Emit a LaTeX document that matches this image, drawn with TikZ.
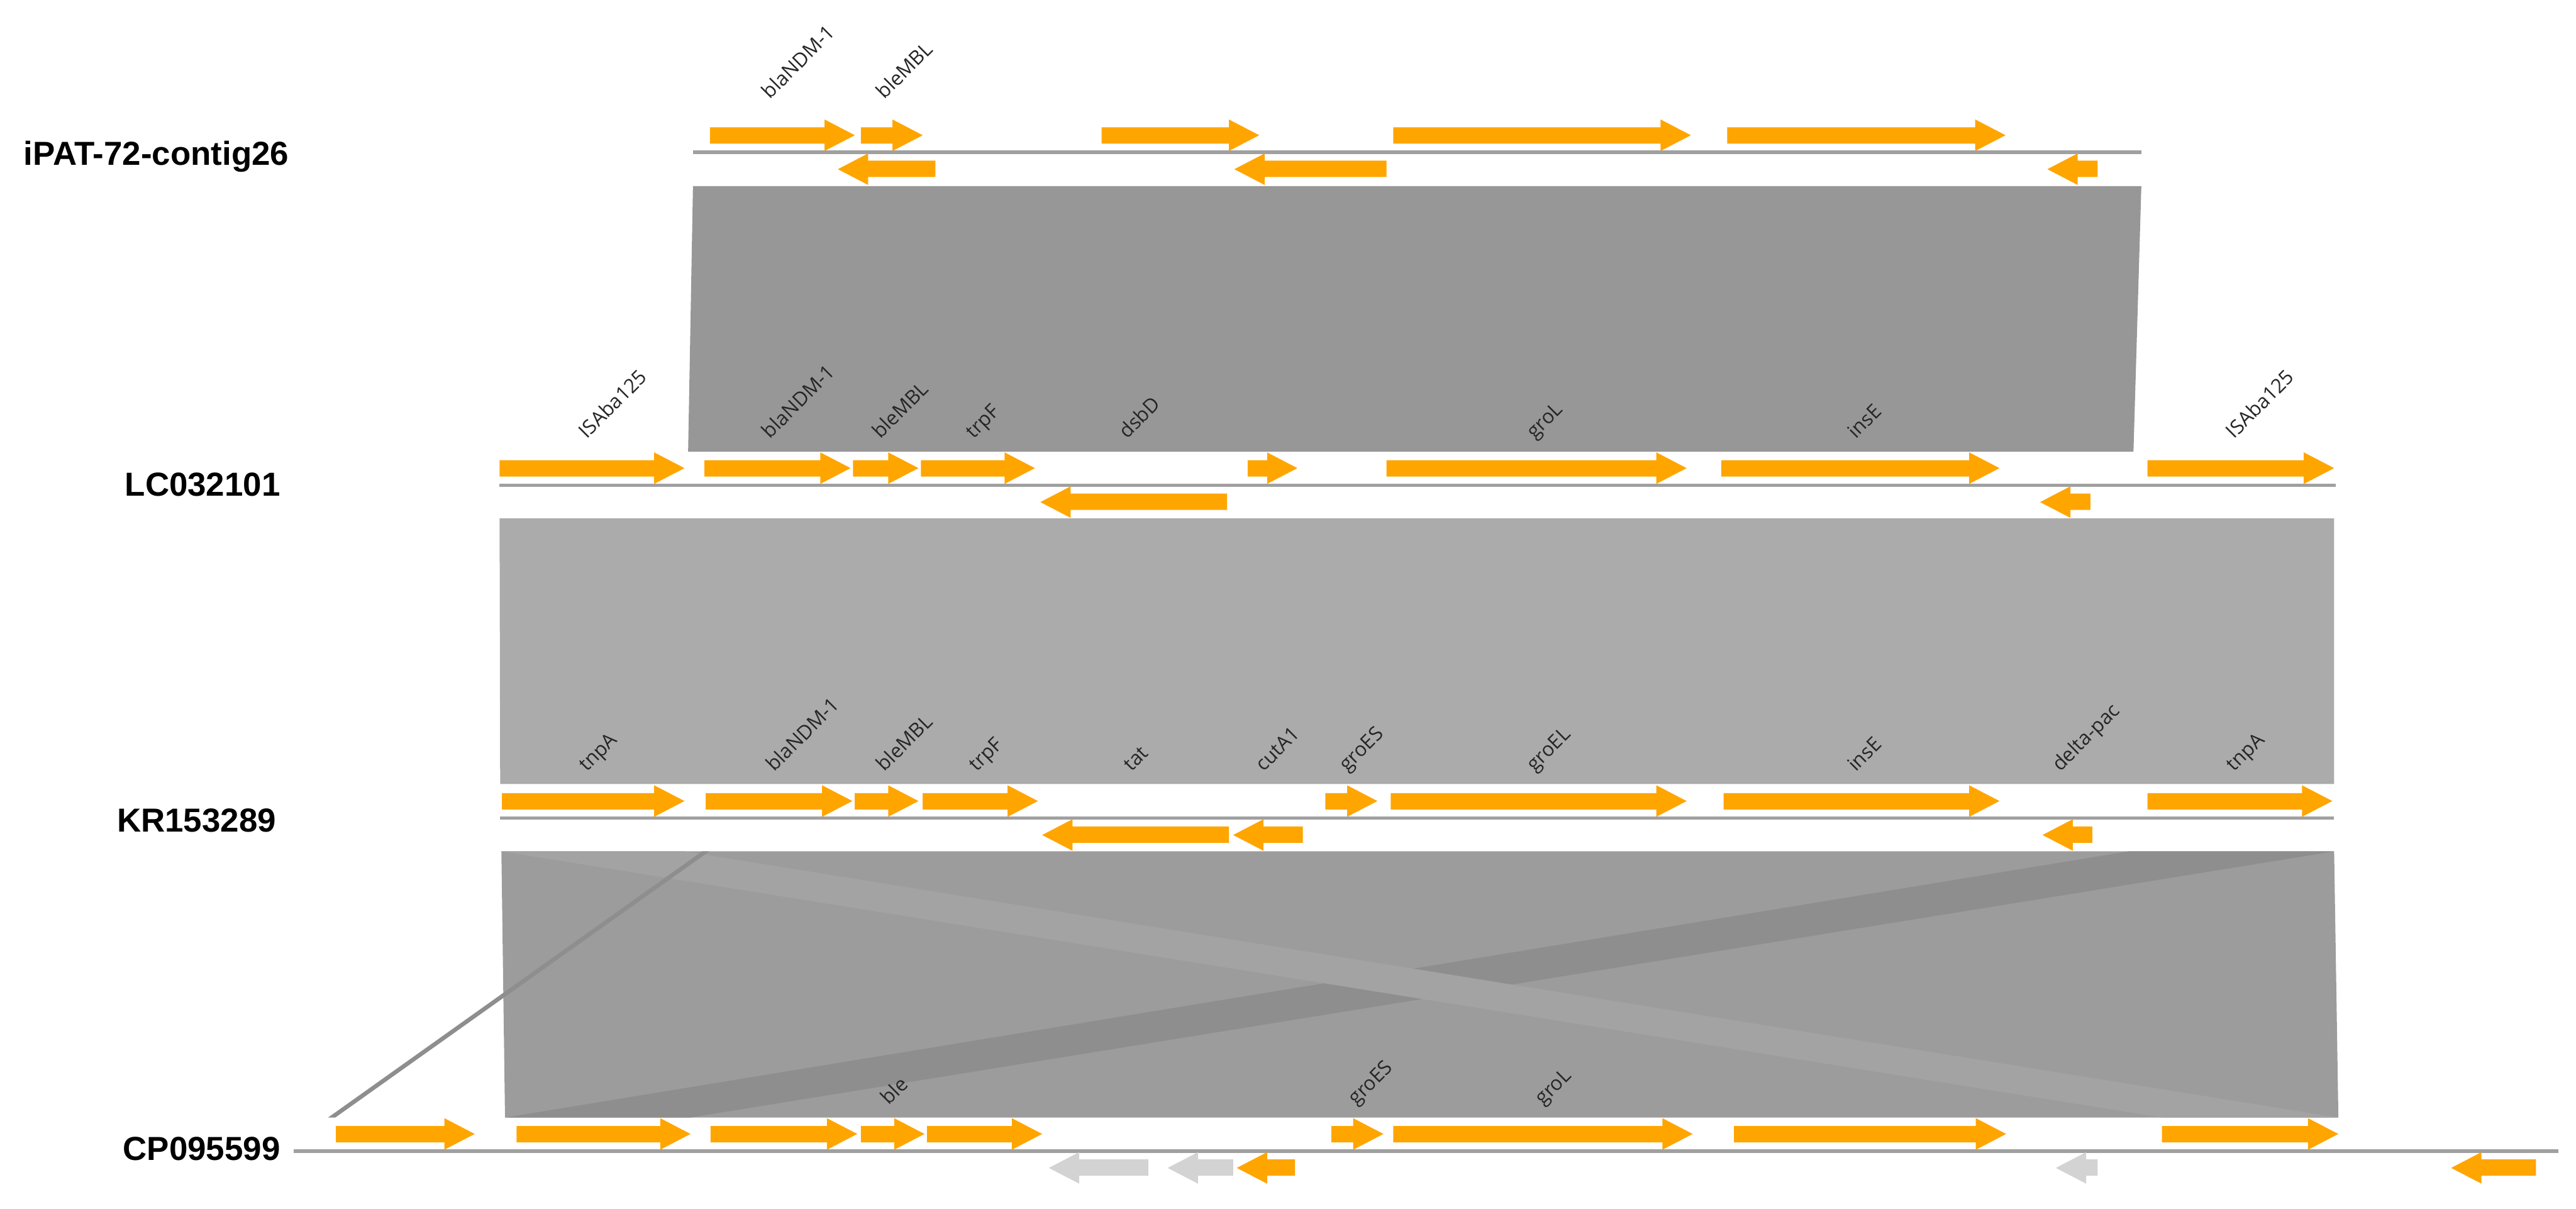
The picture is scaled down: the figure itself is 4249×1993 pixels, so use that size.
\documentclass[tikz,border=0pt]{standalone}
\usepackage{fontspec}
\setmainfont{Liberation Sans}
\newfontfamily\genfont{Open Sans}
\usepackage{tikz}
\usepackage{xcolor}
\definecolor{geneorange}{HTML}{FFA500}
\definecolor{genegray}{HTML}{D3D3D3}
\definecolor{trackgray}{HTML}{A0A0A0}
\definecolor{homolA}{HTML}{979797}
\definecolor{homolB}{HTML}{ABABAB}
\definecolor{homolC}{HTML}{9C9C9C}
\definecolor{homolD}{HTML}{8E8E8E}
\definecolor{homolL}{HTML}{A3A3A3}

\begin{document}
\begin{tikzpicture}[x=0.01cm,y=-0.01cm,
  gene/.style={fill=geneorange},
  pseudo/.style={fill=genegray},
  track/.style={draw=trackgray,line width=1.5pt},
  glabel/.style={font=\genfont\fontsize{9.3}{11}\selectfont,rotate=45,anchor=base west,inner sep=0pt,text=black!85},
  tname/.style={font=\bfseries\fontsize{15.6}{18}\selectfont,anchor=base east,inner sep=0pt}]
  \useasboundingbox (0,0) rectangle (4249,1993);
  % bloques de homologia
  \fill[homolA] (1143,307) -- (3532,307) -- (3519,745) -- (1135,745) -- cycle;
  \fill[homolB] (824,855) -- (3850,855) -- (3850,1293) -- (825,1293) -- cycle;
  \fill[homolC] (827,1404) -- (3850,1404) -- (3857,1843) -- (833,1843) -- cycle;
  \fill[homolD] (3511,1404) -- (3850,1404) -- (1138,1843) -- (833,1843) -- cycle;
  \fill[homolL] (827,1404) -- (1129,1404) -- (3857,1843) -- (3566,1843) -- cycle;
  \fill[homolD] (1158,1404) -- (1170,1404) -- (553,1843) -- (541,1843) -- cycle;
  % (1) iPAT-72-contig26
  \begin{scope}[shift={(0,251)}]
    \draw[track] (1143,0) -- (3532,0);
    \foreach \a/\b in {1171/1410,1420/1522,1817/2077,2298/2789,2849/3308}
      \fill[gene] (\a,-41) -- ({\b-50},-41) -- ({\b-50},-54) -- (\b,-28) -- ({\b-50},-2) -- ({\b-50},-14) -- (\a,-14) -- cycle;
    \foreach \a/\b in {1382/1543,2036/2287,3377/3460}
      \fill[gene] (\b,14) -- ({\a+50},14) -- ({\a+50},2) -- (\a,28) -- ({\a+50},54) -- ({\a+50},41) -- (\b,41) -- cycle;
    \foreach \x/\t in {1270/blaNDM-1,1459/bleMBL}
      \node[glabel] (t1-\x) at (\x,-86) {\t};
    \node[tname] (n1) at (477,21) {iPAT-72-contig26};
  \end{scope}
  % (2) LC032101
  \begin{scope}[shift={(0,800)}]
    \draw[track] (824,0) -- (3853,0);
    \foreach \a/\b in {824/1129,1162/1403,1407/1515,1519/1707,2058/2140,2287/2782,2839/3298,3542/3850}
      \fill[gene] (\a,-41) -- ({\b-50},-41) -- ({\b-50},-54) -- (\b,-28) -- ({\b-50},-2) -- ({\b-50},-14) -- (\a,-14) -- cycle;
    \foreach \a/\b in {1716/2024,3365/3448}
      \fill[gene] (\b,14) -- ({\a+50},14) -- ({\a+50},2) -- (\a,28) -- ({\a+50},54) -- ({\a+50},41) -- (\b,41) -- cycle;
    \foreach \x/\t in {968/ISAba125,1270/blaNDM-1,1452/bleMBL,1606/trpF,1859/dsbD,2531/groL,3061/insE,3685/ISAba125}
      \node[glabel] (t2-\x) at (\x,-75) {\t};
    \node[tname] (n2) at (463,18) {LC032101};
  \end{scope}
  % (3) KR153289
  \begin{scope}[shift={(0,1349)}]
    \draw[track] (825,0) -- (3850,0);
    \foreach \a/\b in {828/1129,1164/1406,1410/1515,1522/1712,2186/2272,2294/2782,2843/3298,3542/3847}
      \fill[gene] (\a,-41) -- ({\b-50},-41) -- ({\b-50},-54) -- (\b,-28) -- ({\b-50},-2) -- ({\b-50},-14) -- (\a,-14) -- cycle;
    \foreach \a/\b in {1719/2027,2034/2149,3369/3451}
      \fill[gene] (\b,14) -- ({\a+50},14) -- ({\a+50},2) -- (\a,28) -- ({\a+50},54) -- ({\a+50},41) -- (\b,41) -- cycle;
    \foreach \x/\t in {968/tnpA,1277/blaNDM-1,1459/bleMBL,1611/trpF,1866/tat,2084/cutA1,2222/groES,2531/groEL,3061/insE,3398/delta-pac,3685/tnpA}
      \node[glabel] (t3-\x) at (\x,-75) {\t};
    \node[tname] (n3) at (456,23) {KR153289};
  \end{scope}
  % (4) CP095599
  \begin{scope}[shift={(0,1898)}]
    \draw[track,line width=1.7pt] (484,0) -- (4220,0);
    \foreach \a/\b in {554/783,852/1139,1172/1414,1420/1525,1529/1719,2196/2282,2298/2792,2860/3309,3566/3857}
      \fill[gene] (\a,-41) -- ({\b-50},-41) -- ({\b-50},-54) -- (\b,-28) -- ({\b-50},-2) -- ({\b-50},-14) -- (\a,-14) -- cycle;
    \foreach \a/\b in {2040/2136,4043/4183}
      \fill[gene] (\b,14) -- ({\a+50},14) -- ({\a+50},2) -- (\a,28) -- ({\a+50},54) -- ({\a+50},41) -- (\b,41) -- cycle;
    \foreach \a/\b in {1730/1894,1926/2034,3391/3460}
      \fill[pseudo] (\b,14) -- ({\a+50},14) -- ({\a+50},2) -- (\a,28) -- ({\a+50},54) -- ({\a+50},41) -- (\b,41) -- cycle;
    \foreach \x/\t in {1466/ble,2237/groES,2545/groL}
      \node[glabel] (t4-\x) at (\x,-74) {\t};
    \node[tname] (n4) at (463,15) {CP095599};
  \end{scope}
\end{tikzpicture}
\end{document}
